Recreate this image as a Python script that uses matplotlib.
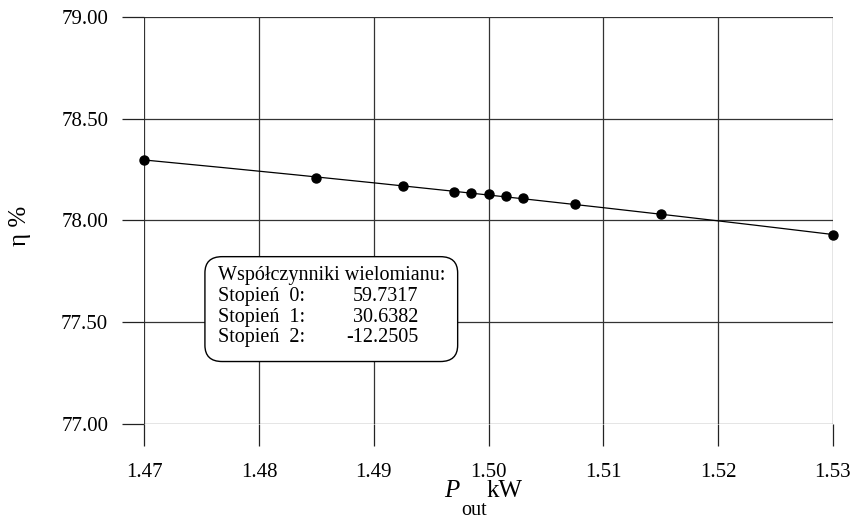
import numpy as np
import matplotlib
matplotlib.use("Agg")
import matplotlib.pyplot as plt
from matplotlib.patches import FancyBboxPatch

plt.rcParams["font.family"] = ["Liberation Serif", "DejaVu Serif"]

# measured points: output power [kW] vs efficiency [%]
p_out = [1.47, 1.485, 1.4925, 1.497, 1.4985, 1.50, 1.5015, 1.503, 1.5075, 1.515, 1.53]
eta = [78.30, 78.21, 78.17, 78.14, 78.135, 78.13, 78.12, 78.11, 78.08, 78.03, 77.93]

# 2nd degree polynomial fit coefficients (degree 0, 1, 2)
coeffs = [59.7317, 30.6382, -12.2505]

x_ticks = [1.47, 1.48, 1.49, 1.50, 1.51, 1.52, 1.53]
y_ticks = [77.0, 77.5, 78.0, 78.5, 79.0]

W, H = 856, 522
fig = plt.figure(figsize=(W / 100, H / 100), dpi=100)
ax = fig.add_axes([0.1686, 0.1883, 0.8045, 0.7786])

xs = np.linspace(x_ticks[0], x_ticks[-1], 200)
fit = coeffs[0] + coeffs[1] * xs + coeffs[2] * xs ** 2
ax.plot(xs, fit, color="black", lw=0.9, zorder=3)
ax.plot(p_out, eta, "o", color="black", ms=6.5, clip_on=False, zorder=4)

ax.set_xlim(x_ticks[0], x_ticks[-1])
ax.set_ylim(y_ticks[0], y_ticks[-1])
ax.set_xticks(x_ticks)
ax.set_xticklabels([f"{v:.2f}" for v in x_ticks])
ax.set_yticks(y_ticks)
ax.set_yticklabels([f"{v:.2f}" for v in y_ticks])
ax.tick_params(axis="both", length=16, width=0.9, color="#222222",
               labelsize=15, direction="out")
ax.tick_params(axis="y", pad=10)
ax.tick_params(axis="x", pad=12.5)
ax.grid(True, color="#333333", lw=0.9)
for side in ["left", "right", "top", "bottom"]:
    ax.spines[side].set_visible(False)

# axis titles, placed in pixels
fig.text(444 / W, 1 - 497 / H, "P", fontsize=18, style="italic")
fig.text(461 / W, 1 - 515 / H, "out", fontsize=14.5)
fig.text(487 / W, 1 - 497 / H, "kW", fontsize=18)
fig.text(20 / W, 1 - 226 / H, "η %", fontsize=18, rotation=90,
         ha="center", va="center")

# coefficient box
box = FancyBboxPatch((0.088, 0.153), 0.367, 0.258, transform=ax.transAxes,
                     boxstyle="round,pad=0,rounding_size=0.025",
                     fc="white", ec="black", lw=1.0, zorder=5,
                     mutation_aspect=1.6)
ax.add_patch(box)
ax.text(0.107, 0.365, "Współczynniki wielomianu:", transform=ax.transAxes,
        fontsize=14.5, va="center", zorder=6)
for i, c in enumerate(coeffs):
    yy = 0.313 - i * 0.051
    ax.text(0.107, yy, f"Stopień  {i}:", transform=ax.transAxes,
            fontsize=14.5, va="center", zorder=6)
    ax.text(0.398, yy, f"{c:.4f}", transform=ax.transAxes,
            fontsize=14.5, va="center", ha="right", zorder=6)

fig.savefig("out.png", dpi=100)
